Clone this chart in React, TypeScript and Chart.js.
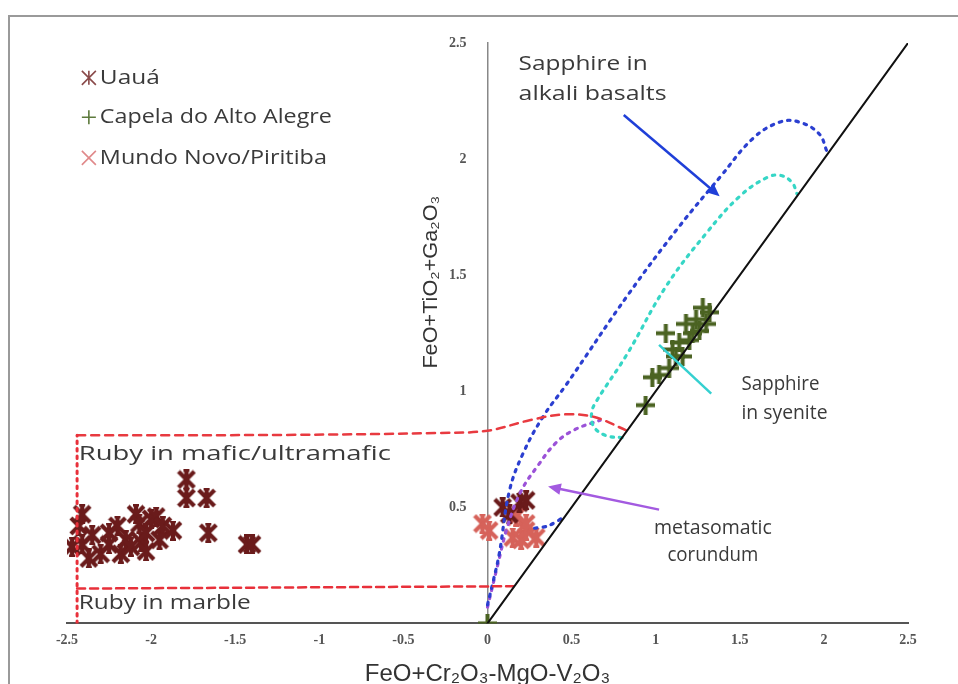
import React, { useEffect, useRef } from "react";
import { Chart, registerables } from "chart.js";
Chart.register(...registerables);

// ---- axis ticks ----
const xTicks = [-2.5, -2, -1.5, -1, -0.5, 0, 0.5, 1, 1.5, 2, 2.5];
const yTicks = [0.5, 1, 1.5, 2, 2.5];

// ---- series ----
const uauaX = [-2.47, -2.43, -2.41, -2.41, -2.37, -2.35, -2.3, -2.25, -2.25, -2.2, -2.18, -2.15, -2.12, -2.09, -2.07, -2.06, -2.03, -2.03, -2.0, -1.97, -1.95, -1.93, -1.87, -1.79, -1.79, -1.67, -1.66, -1.43, -1.4, 0.09, 0.13, 0.19, 0.23];
const uauaY = [0.33, 0.42, 0.47, 0.34, 0.28, 0.38, 0.3, 0.39, 0.34, 0.42, 0.3, 0.36, 0.33, 0.47, 0.43, 0.35, 0.39, 0.31, 0.45, 0.46, 0.36, 0.42, 0.4, 0.62, 0.54, 0.54, 0.39, 0.34, 0.34, 0.5, 0.47, 0.52, 0.53];

const capelaX = [0, 0.94, 0.98, 1.02, 1.06, 1.08, 1.1, 1.12, 1.14, 1.16, 1.18, 1.2, 1.22, 1.24, 1.26, 1.28, 1.3, 1.32];
const capelaY = [0, 0.94, 1.06, 1.07, 1.25, 1.1, 1.18, 1.15, 1.21, 1.15, 1.29, 1.22, 1.25, 1.31, 1.26, 1.36, 1.29, 1.34];

const mundoX = [-0.03, 0.01, 0.15, 0.17, 0.2, 0.23, 0.23, 0.29];
const mundoY = [0.43, 0.4, 0.37, 0.46, 0.36, 0.4, 0.43, 0.37];

// ---- field boundaries ----
const diagonalX = [0, 2.5];
const diagonalY = [0, 2.5];

const rubyLeftX = [-2.44, -2.44];
const rubyLeftY = [0, 0.81];
const rubyTopX = [-2.44, -1.2, -0.3, 0, 0.25, 0.45, 0.63, 0.83];
const rubyTopY = [0.81, 0.812, 0.82, 0.83, 0.875, 0.9, 0.89, 0.83];
const rubyBottomX = [-2.44, 0.155];
const rubyBottomY = [0.15, 0.16];

const alkaliX = [0, 0.03, 0.07, 0.13, 0.21, 0.33, 0.47, 0.84, 1.14, 1.38, 1.58, 1.74, 1.85, 1.97, 2.02];
const alkaliY = [0.08, 0.17, 0.3, 0.57, 0.73, 0.89, 1.03, 1.42, 1.71, 1.92, 2.09, 2.16, 2.16, 2.11, 2.03];
const alkaliBaseX = [0.28, 0.36, 0.46];
const alkaliBaseY = [0.41, 0.42, 0.46];

const syeniteX = [0.8, 0.7, 0.63, 0.62, 0.65, 0.83, 1.06, 1.3, 1.5, 1.66, 1.74, 1.81, 1.84];
const syeniteY = [0.8, 0.81, 0.85, 0.91, 0.96, 1.16, 1.45, 1.68, 1.84, 1.92, 1.93, 1.9, 1.85];

const metasoX = [0, 0.06, 0.12, 0.2, 0.3, 0.41, 0.52, 0.67];
const metasoY = [0.07, 0.25, 0.42, 0.57, 0.68, 0.78, 0.835, 0.875];

const pts = (xs: number[], ys: number[]) => xs.map((x, i) => ({ x, y: ys[i] }));

function makeStar(color: string, size: number, lw: number) {
  const c = document.createElement("canvas");
  c.width = size; c.height = size;
  const g = c.getContext("2d")!;
  g.strokeStyle = color; g.lineWidth = lw; g.lineCap = "butt";
  const m = lw / 2, s = size - m;
  g.beginPath();
  g.moveTo(m, m); g.lineTo(s, s);
  g.moveTo(s, m); g.lineTo(m, s);
  g.moveTo(size / 2, 0); g.lineTo(size / 2, size);
  g.stroke();
  g.lineWidth = lw * 0.7;
  g.beginPath();
  g.moveTo(size / 2 - 3, 1); g.lineTo(size / 2 + 3, 1);
  g.moveTo(size / 2 - 3, size - 1); g.lineTo(size / 2 + 3, size - 1);
  g.stroke();
  return c;
}
function makePlus(color: string, size: number, lw: number) {
  const c = document.createElement("canvas");
  c.width = size; c.height = size;
  const g = c.getContext("2d")!;
  g.strokeStyle = color; g.lineWidth = lw;
  g.beginPath();
  g.moveTo(0, size / 2); g.lineTo(size, size / 2);
  g.moveTo(size / 2, 0); g.lineTo(size / 2, size);
  g.stroke();
  return c;
}

const UAUA = "#6a1b1b";
const CAPELA = "#4b6322";
const MUNDO = "#d6625a";
const TXT = "#3a3a3a";
const ANN_FONT = "'Open Sans', sans-serif";

function fillFit(ctx: CanvasRenderingContext2D, text: string, x: number, y: number, w: number, align: CanvasTextAlign) {
  const m = ctx.measureText(text).width;
  ctx.save();
  ctx.translate(x, y);
  ctx.scale(w / m, 1);
  ctx.textAlign = align;
  ctx.fillText(text, 0, 0);
  ctx.restore();
}

function arrow(ctx: CanvasRenderingContext2D, x1: number, y1: number, x2: number, y2: number, color: string, head: boolean) {
  ctx.save();
  ctx.strokeStyle = color; ctx.fillStyle = color; ctx.lineWidth = 2.5;
  const a = Math.atan2(y2 - y1, x2 - x1);
  const hl = head ? 14 : 0;
  ctx.beginPath();
  ctx.moveTo(x1, y1);
  ctx.lineTo(x2 - Math.cos(a) * hl * 0.8, y2 - Math.sin(a) * hl * 0.8);
  ctx.stroke();
  if (head) {
    ctx.beginPath();
    ctx.moveTo(x2, y2);
    ctx.lineTo(x2 - hl * Math.cos(a - 0.42), y2 - hl * Math.sin(a - 0.42));
    ctx.lineTo(x2 - hl * Math.cos(a + 0.42), y2 - hl * Math.sin(a + 0.42));
    ctx.closePath();
    ctx.fill();
  }
  ctx.restore();
}

const overlay = {
  id: "overlay",
  afterDraw(chart: any) {
    const ctx = chart.ctx as CanvasRenderingContext2D;
    const sx = chart.scales.x, sy = chart.scales.y;
    const X = (v: number) => sx.getPixelForValue(v);
    const Y = (v: number) => sy.getPixelForValue(v);
    ctx.save();
    // y axis title
    ctx.save();
    ctx.translate(X(0) - 56, Y(1.47));
    ctx.rotate(-Math.PI / 2);
    ctx.font = "20px 'Liberation Sans', Arial, sans-serif";
    ctx.fillStyle = "#333";
    ctx.textBaseline = "middle";
    fillFit(ctx, "FeO+TiO₂+Ga₂O₃", 0, 0, 173, "center");
    ctx.restore();

    // annotations
    ctx.font = `20px ${ANN_FONT}`;
    ctx.fillStyle = TXT;
    ctx.textBaseline = "middle";
    fillFit(ctx, "Sapphire in", X(0.185), Y(2.41), 129, "left");
    fillFit(ctx, "alkali basalts", X(0.185), Y(2.28), 148, "left");
    fillFit(ctx, "Sapphire", X(1.51), Y(1.03), 78, "left");
    fillFit(ctx, "in syenite", X(1.51), Y(0.905), 86, "left");
    fillFit(ctx, "metasomatic", X(1.34), Y(0.41), 118, "center");
    fillFit(ctx, "corundum", X(1.34), Y(0.295), 91, "center");
    fillFit(ctx, "Ruby in mafic/ultramafic", X(-2.43), Y(0.73), 312, "left");
    fillFit(ctx, "Ruby in marble", X(-2.43), Y(0.085), 172, "left");

    // arrows
    arrow(ctx, X(0.81), Y(2.19), X(1.38), Y(1.84), "#1f3fd8", true);
    arrow(ctx, X(1.33), Y(0.99), X(1.02), Y(1.2), "#35d0d0", false);
    arrow(ctx, X(1.02), Y(0.49), X(0.36), Y(0.59), "#a35ae0", true);

    // legend
    const lx = X(-2.37), items = [
      { t: "Uauá", y: Y(2.35), k: "star", c: "#8a4a4a", w: 60 },
      { t: "Capela do Alto Alegre", y: Y(2.18), k: "plus", c: "#5d7a3c", w: 232 },
      { t: "Mundo Novo/Piritiba", y: Y(2.005), k: "x", c: "#e0898a", w: 227 },
    ];
    ctx.font = `20px ${ANN_FONT}`;
    ctx.textBaseline = "middle";
    for (const it of items) {
      ctx.save();
      ctx.strokeStyle = it.c; ctx.lineWidth = 1.6;
      const r = 7;
      ctx.beginPath();
      if (it.k === "plus") {
        ctx.moveTo(lx - r, it.y); ctx.lineTo(lx + r, it.y);
        ctx.moveTo(lx, it.y - r); ctx.lineTo(lx, it.y + r);
      } else {
        ctx.moveTo(lx - r, it.y - r); ctx.lineTo(lx + r, it.y + r);
        ctx.moveTo(lx + r, it.y - r); ctx.lineTo(lx - r, it.y + r);
        if (it.k === "star") { ctx.moveTo(lx, it.y - r); ctx.lineTo(lx, it.y + r); }
      }
      ctx.stroke();
      ctx.restore();
      ctx.fillStyle = TXT;
      fillFit(ctx, it.t, lx + 11, it.y, it.w, "left");
    }
    ctx.restore();
  },
};

export default function App() {
  const ref = useRef<HTMLCanvasElement>(null);
  useEffect(() => {
    document.body.style.margin = "0";
    const starU = makeStar(UAUA, 20, 4.2);
    const starM = makeStar(MUNDO, 20, 4.2);
    const plusC = makePlus(CAPELA, 19, 4);
    const line = (data: any, color: string, dash: number[], width: number, tension = 0.4) => ({
      type: "line" as const, data, borderColor: color, borderDash: dash, borderWidth: width,
      pointRadius: 0, showLine: true, tension, fill: false, borderCapStyle: "round" as const,
    });
    const tickFont = { family: "'Liberation Serif', serif", size: 14, weight: "bold" };
    const chart = new Chart(ref.current!, {
      type: "scatter",
      data: {
        datasets: [
          line(pts(diagonalX, diagonalY), "#111", [], 2, 0),
          line(pts(rubyLeftX, rubyLeftY), "#e8303a", [2.5, 5], 3, 0),
          line(pts(rubyTopX, rubyTopY), "#e83a40", [8, 6], 2.5, 0.35),
          line(pts(rubyBottomX, rubyBottomY), "#e8303a", [8, 5], 2.5, 0),
          line(pts(alkaliX, alkaliY), "#2b3fd0", [2.5, 6], 3.2, 0.4),
          line(pts(alkaliBaseX, alkaliBaseY), "#2b3fd0", [2.5, 6], 3.2, 0.3),
          line(pts(syeniteX, syeniteY), "#36d6c6", [2.5, 6], 3.2, 0.4),
          line(pts(metasoX, metasoY), "#9b52d8", [2.5, 6], 3.2, 0.4),
          { data: pts(uauaX, uauaY), pointStyle: starU, pointRadius: 9, borderColor: UAUA, backgroundColor: UAUA },
          { data: pts(mundoX, mundoY), pointStyle: starM, pointRadius: 9, borderColor: MUNDO, backgroundColor: MUNDO },
          { data: pts(capelaX, capelaY), pointStyle: plusC, pointRadius: 9, borderColor: CAPELA, backgroundColor: CAPELA },
        ] as any,
      },
      options: {
        animation: false,
        responsive: false,
        maintainAspectRatio: false,
        layout: { padding: { left: 67, right: 50, top: 43, bottom: -5 } },
        plugins: { legend: { display: false }, tooltip: { enabled: false } },
        scales: {
          x: {
            type: "linear", min: -2.5, max: 2.5, position: "bottom",
            afterBuildTicks: (s: any) => { s.ticks = xTicks.map((v) => ({ value: v })); },
            grid: { display: false, drawTicks: false },
            border: { color: "#555", width: 2 },
            ticks: { padding: 9, color: "#555", font: tickFont, callback: (v: any) => String(v) },
            title: { display: true, text: "FeO+Cr₂O₃-MgO-V₂O₃", color: "#333", padding: { top: 2, bottom: 0 }, font: { family: "'Liberation Sans', Arial, sans-serif", size: 24 } },
          },
          y: {
            type: "linear", min: 0, max: 2.5, position: { x: 0 } as any,
            afterBuildTicks: (s: any) => { s.ticks = yTicks.map((v) => ({ value: v })); },
            grid: { display: false, drawTicks: false },
            border: { color: "#888", width: 1.5 },
            ticks: { color: "#555", font: tickFont, callback: (v: any) => String(v) + "\u2003\u2002" },
          },
        },
      } as any,
      plugins: [overlay],
    });
    return () => chart.destroy();
  }, []);
  return (
    <div style={{ position: "relative", width: 958, height: 684, overflow: "hidden", background: "#fff" }}>
      <div style={{ position: "absolute", left: 8, top: 15, width: 1000, height: 1000, border: "2px solid #9a9a9a", boxSizing: "border-box" }} />
      <canvas ref={ref} width={958} height={684} style={{ position: "absolute", left: 0, top: 0, width: 958, height: 684 }} />
    </div>
  );
}
